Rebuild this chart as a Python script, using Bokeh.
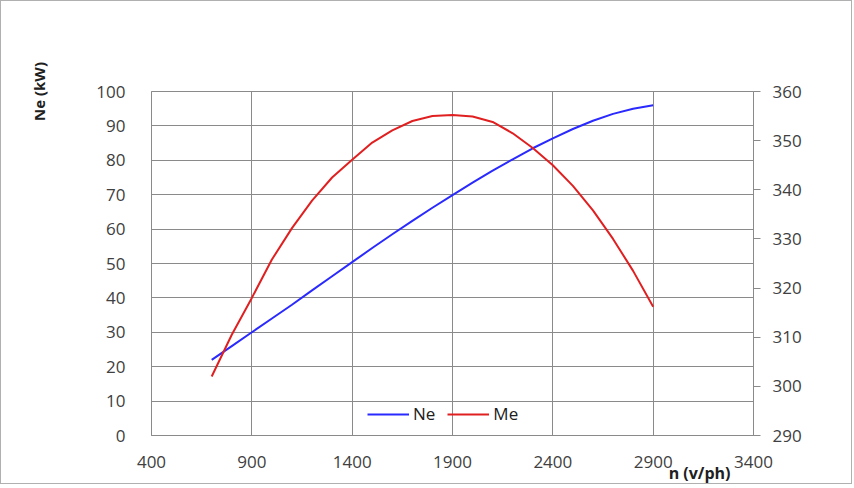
from bokeh.plotting import figure
from bokeh.models import Range1d, LinearAxis, FixedTicker, Legend, LegendItem, Title
from bokeh.embed import file_html
from bokeh.resources import INLINE

# Data
rpm = [700, 800, 900, 1000, 1100, 1200, 1300, 1400, 1500, 1600, 1700, 1800,
       1900, 2000, 2100, 2200, 2300, 2400, 2500, 2600, 2700, 2800, 2900]
ne_kw = [22, 26, 30, 34, 38, 42.2, 46.3, 50.4, 54.5, 58.5, 62.4, 66.2,
         69.9, 73.5, 77, 80.3, 83.5, 86.4, 89.1, 91.5, 93.5, 95, 96]
me_nm = [302, 310.5, 318, 325.8, 332.2, 337.8, 342.5, 346.1, 349.6, 352.1, 354, 355,
         355.2, 354.9, 353.8, 351.5, 348.5, 345, 340.8, 335.8, 330, 323.5, 316.2]
x_ticks = [400, 900, 1400, 1900, 2400, 2900, 3400]
left_ticks = [0, 10, 20, 30, 40, 50, 60, 70, 80, 90, 100]
right_ticks = [290, 300, 310, 320, 330, 340, 350, 360]

FONT = "Open Sans"
TICK_COLOR = "#404040"
GRID = "#8a8a8a"

p = figure(width=852, height=484, output_backend="svg", toolbar_location=None,
           x_range=Range1d(400, 3400), y_range=Range1d(0, 100),
           min_border_left=150, min_border_right=100, min_border_top=90,
           min_border_bottom=50)
p.styles = {"border": "1px solid #b0b0b0"}
p.extra_y_ranges = {"me": Range1d(290, 360)}

p.xaxis.ticker = FixedTicker(ticks=x_ticks)
p.yaxis.ticker = FixedTicker(ticks=left_ticks)
for ax in (p.xaxis[0], p.yaxis[0]):
    ax.major_tick_line_color = None
    ax.minor_tick_line_color = None
    ax.axis_line_color = GRID
    ax.major_label_text_font = FONT
    ax.major_label_text_font_size = "17px"
    ax.major_label_text_color = TICK_COLOR
p.xaxis.major_label_standoff = 14
p.yaxis.major_label_standoff = 20

p.yaxis.axis_label = "Ne (kW)"
p.yaxis.axis_label_text_font = FONT
p.yaxis.axis_label_text_font_style = "bold"
p.yaxis.axis_label_text_color = "#202020"
p.yaxis.axis_label_text_font_size = "15px"
p.yaxis.axis_label_standoff = 44
p.yaxis.axis_label_align = "end"

p.add_layout(Title(text="n (v/ph)", align="right", offset=23,
                   vertical_align="top", standoff=-18,
                   text_font=FONT, text_font_size="16px",
                   text_font_style="bold", text_color="#202020"), "below")

right = LinearAxis(y_range_name="me", ticker=FixedTicker(ticks=right_ticks))
right.major_tick_in = 0
right.major_tick_out = 7
right.major_tick_line_color = GRID
right.minor_tick_line_color = None
right.axis_line_color = GRID
right.major_label_text_font = FONT
right.major_label_text_font_size = "17px"
right.major_label_text_color = TICK_COLOR
right.major_label_standoff = 12
p.add_layout(right, "right")

p.xgrid.ticker = FixedTicker(ticks=x_ticks)
p.ygrid.ticker = FixedTicker(ticks=left_ticks)
p.grid.grid_line_color = GRID
p.grid.grid_line_width = 1
p.outline_line_color = GRID

r_ne = p.line(rpm, ne_kw, line_color="#2a2aff", line_width=2)
r_me = p.line(rpm, me_nm, line_color="#e02020", line_width=2, y_range_name="me")

legend = Legend(items=[LegendItem(label="Ne", renderers=[r_ne]),
                       LegendItem(label="Me", renderers=[r_me])],
                orientation="horizontal", location=(212, 6),
                background_fill_alpha=0, border_line_alpha=0,
                glyph_width=42, label_standoff=4, spacing=12,
                label_text_font=FONT, label_text_font_size="17px",
                label_text_color="#202020", padding=4, margin=0)
p.add_layout(legend, "center")

open("out.html", "w").write(file_html(p, INLINE))
